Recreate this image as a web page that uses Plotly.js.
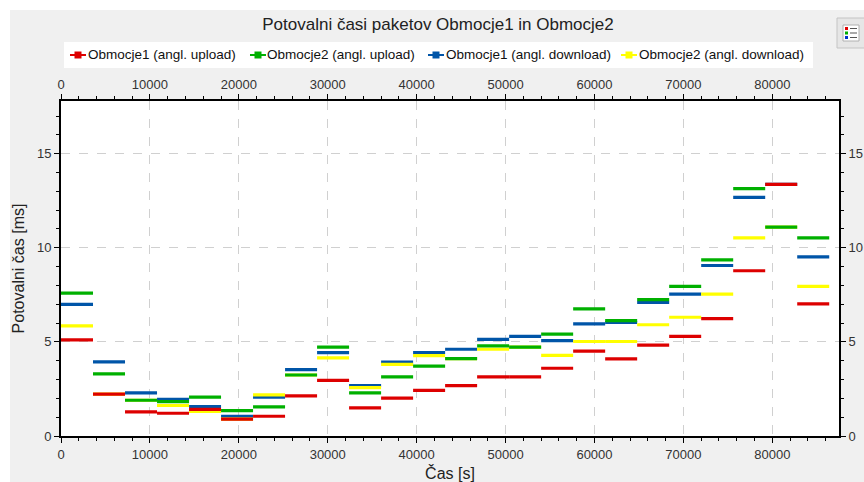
<!DOCTYPE html>
<html><head><meta charset="utf-8">
<script src="https://cdn.plot.ly/plotly-3.0.1.min.js"></script>
<style>html,body{margin:0;padding:0;background:#fff}#chart{width:864px;height:482px}</style>
</head><body><div id="chart"></div>
<script>
// ---- data ----
const hourIndex = [0,1,2,3,4,5,6,7,8,9,10,11,12,13,14,15,16,17,18,19,20,21,22,23];
const slotSeconds = 3600;
const seriesNames = ['Obmocje1 (angl. upload)','Obmocje2 (angl. upload)','Obmocje1 (angl. download)','Obmocje2 (angl. download)'];
const upload1   = [5.11,2.23,1.28,1.21,1.42,0.90,1.05,2.13,2.96,1.49,2.01,2.42,2.68,3.14,3.14,3.60,4.51,4.10,4.83,5.29,6.24,8.78,13.37,7.02];
const upload2   = [7.59,3.30,1.90,1.83,2.07,1.35,1.55,3.24,4.72,2.29,3.14,3.71,4.11,4.79,4.72,5.41,6.76,6.13,7.25,7.95,9.36,13.14,11.10,10.53];
const download1 = [6.99,3.94,2.29,1.95,1.56,1.05,2.06,3.53,4.43,2.68,3.92,4.43,4.61,5.13,5.29,5.07,5.96,6.03,7.10,7.54,9.06,12.68,13.37,9.52];
const download2 = [5.85,2.23,1.90,1.62,1.31,0.90,2.18,3.24,4.15,2.57,3.81,4.27,4.11,4.61,4.72,4.28,5.02,5.02,5.91,6.31,7.54,10.53,11.10,7.95];
const xTicks = [0,10000,20000,30000,40000,50000,60000,70000,80000];
const yTicks = [0,5,10,15];
const colors = ['#dd0000','#00b000','#0055a8','#ffff00'];

// ---- build hourly segments ----
function segments(vals){
  const x=[], y=[];
  hourIndex.forEach(function(h){
    const v = vals[h];
    if (v === null || v === undefined) return;
    x.push(h*slotSeconds,(h+1)*slotSeconds,null);
    y.push(v,v,null);
  });
  return {x:x,y:y};
}
const allSeries = [upload1, upload2, download1, download2];
const drawOrder = [2,3,1,0]; // bottom -> top: download1, download2, upload2, upload1
const traces = [];
// helper trace so the mirrored top/right axes exist
traces.push({x:[null],y:[null],xaxis:'x2',yaxis:'y2',type:'scatter',mode:'lines',showlegend:false,hoverinfo:'skip'});
drawOrder.forEach(function(i){
  const s = segments(allSeries[i]);
  traces.push({x:s.x,y:s.y,type:'scatter',mode:'lines',name:seriesNames[i],
    line:{color:colors[i],width:3.2},connectgaps:false,showlegend:false,hoverinfo:'x+y'});
});

// ---- geometry helpers for decorations ----
const W=864,H=482,ML=61,MR=25,MT=101,MB=46;
const PW=W-ML-MR, PH=H-MT-MB;
function xp(px){return (px-ML)/PW;}
function yp(py){return (H-MB-py)/PH;}
function rect(x0,y0,x1,y1,fill,line,lw,layer){
  return {type:'rect',xref:'paper',yref:'paper',layer:layer||'below',x0:xp(x0),x1:xp(x1),y0:yp(y1),y1:yp(y0),
    fillcolor:fill,line:{color:line||fill,width:lw||0}};
}
const shapes = [
  rect(10,10,W,H,'#f0f0f0'),
  rect(ML,MT,W-MR,H-MB,'#ffffff'),
  rect(837,18,866,48,'#e6e6e6','#c4c4c4',1),
  rect(843,25,859,41,'#ffffff','#b0b0b0',1),
  rect(845,27,848,30,'#e00000'),
  rect(845,31.5,848,34.5,'#00b000'),
  rect(845,36,848,39,'#0033cc'),
  rect(850,28,857,29,'#555555'),
  rect(850,32.5,857,33.5,'#555555'),
  rect(850,37,857,38,'#555555'),
  // legend box
  rect(64,42,813,68,'#ffffff',null,0,'above')
];
// legend entries (symbol centre px, text start px)
const legendSymX = [78,258,436,629];
const legendTextX = [87,266,445,638];
const legendY = 55;
const annotations = [];
for (let i=0;i<4;i++){
  shapes.push({type:'line',xref:'paper',yref:'paper',layer:'above',
    x0:xp(legendSymX[i]-8),x1:xp(legendSymX[i]+8),y0:yp(legendY),y1:yp(legendY),
    line:{color:colors[i],width:2}});
  shapes.push(rect(legendSymX[i]-3.5,legendY-3.5,legendSymX[i]+3.5,legendY+3.5,colors[i],null,0,'above'));
  annotations.push({xref:'paper',yref:'paper',x:xp(legendTextX[i]),y:yp(legendY),xanchor:'left',yanchor:'middle',
    text:seriesNames[i],showarrow:false,font:{size:13.5,color:'#111'},borderpad:0});
}

const axisCommon = {
  ticks:'outside',ticklen:5,tickwidth:1,tickcolor:'#000',
  showline:true,linecolor:'#000',linewidth:2,zeroline:false,
  tickfont:{size:13,color:'#333'},fixedrange:true
};
const xRange=[0,87500], yRange=[0,17.8];
const minorX = {tickmode:'linear',tick0:0,dtick:2000,ticks:'outside',ticklen:3,tickcolor:'#000',showgrid:false};
const minorY = {tickmode:'linear',tick0:0,dtick:1,ticks:'outside',ticklen:3,tickcolor:'#000',showgrid:false};
const layout = {
  width:W,height:H,
  font:{family:'"Liberation Sans", Arial, sans-serif',size:13,color:'#222'},
  paper_bgcolor:'#ffffff',plot_bgcolor:'rgba(0,0,0,0)',
  margin:{l:ML,r:MR,t:MT,b:MB,pad:0},
  title:{text:'Potovalni časi paketov Obmocje1 in Obmocje2',font:{size:17,color:'#222'},
    x:xp(438),xanchor:'center',xref:'paper',y:1-24/H,yanchor:'middle',yref:'container'},
  showlegend:false,
  xaxis:Object.assign({},axisCommon,{range:xRange,tickmode:'array',tickvals:xTicks,
    ticktext:xTicks.map(String),showgrid:true,gridcolor:'#d0d0d0',griddash:'dash',gridwidth:1,
    minor:minorX,title:{text:'Čas [s]',font:{size:16,color:'#222'},standoff:7}}),
  xaxis2:Object.assign({},axisCommon,{range:xRange,overlaying:'x',side:'top',anchor:'y',
    tickmode:'array',tickvals:xTicks,ticktext:xTicks.map(String),showgrid:false,minor:minorX}),
  yaxis:Object.assign({},axisCommon,{range:yRange,tickmode:'array',tickvals:yTicks,
    ticktext:yTicks.map(String),showgrid:true,gridcolor:'#d0d0d0',griddash:'dash',gridwidth:1,
    minor:minorY,title:{text:'Potovalni čas [ms]',font:{size:16,color:'#222'},standoff:8}}),
  yaxis2:Object.assign({},axisCommon,{range:yRange,overlaying:'y',side:'right',anchor:'x',
    tickmode:'array',tickvals:yTicks,ticktext:yTicks.map(String),showgrid:false,minor:minorY}),
  shapes:shapes,
  annotations:annotations
};
Plotly.newPlot('chart',traces,layout,{displayModeBar:false,staticPlot:true});
</script>
</body></html>
